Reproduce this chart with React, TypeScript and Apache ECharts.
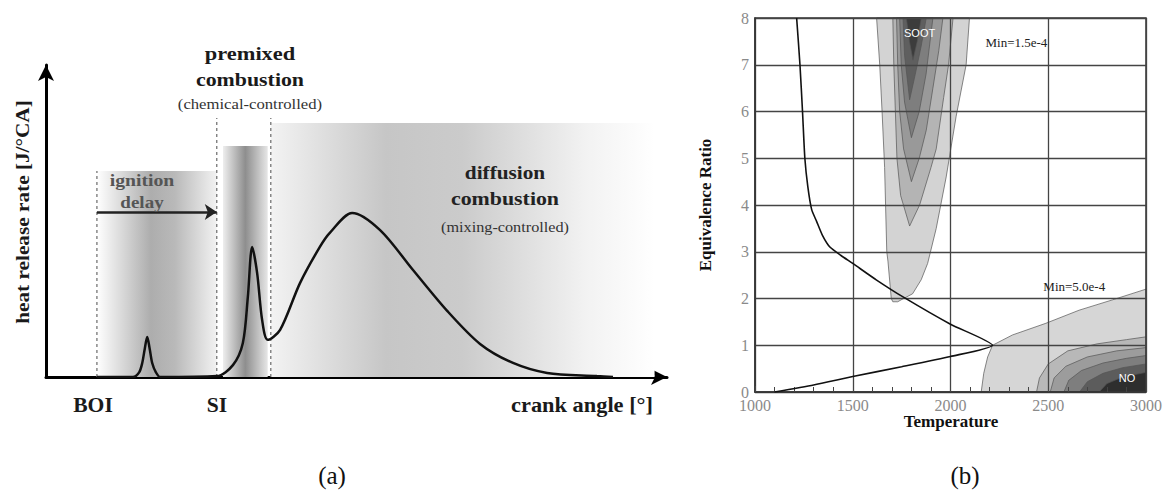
import React, { useEffect, useRef } from "react";
import * as echarts from "echarts";

// ---------- Panel (a): schematic heat release rate (arbitrary units) ----------
const hrrCrank = [8.2, 14.0, 15.0, 15.5, 15.9, 16.3, 16.7, 17.1, 17.7, 18.4, 27.5, 30.1, 31.7, 32.5, 33.2, 34.0, 34.8, 35.7, 37.7, 40.9, 44.1, 45.7, 49.3, 53.8, 59.1, 64.6, 69.9, 75.2, 80.7, 88.7, 91.3];
const hrrValue = [0, 0, 1.5, 4.5, 9, 12.8, 9, 4.5, 1.5, 0, 0.3, 3.8, 10.9, 25.6, 41.7, 33.3, 18.3, 11.9, 15.1, 30.1, 41.7, 46.2, 52.6, 47.1, 34.3, 21.2, 10.6, 4.5, 1.3, 0.3, 0];

const bandStart = [8.2, 28.5, 36.2];
const bandEnd = [27.5, 35.7, 98];
const bandTop = [66, 74, 81.4];

const markerCrank = [8.2, 27.5, 36.2];
const markerTop = [66, 83, 83];

const delayFrom = 8.2;
const delayTo = 27.5;
const delayLevel = 52.9;

// ---------- Panel (b): soot / NO map ----------
const flameCurve = [
  [1213, 8], [1230, 7], [1243, 6], [1255, 5], [1270, 4.4], [1290, 3.9], [1315, 3.65], [1345, 3.35],
  [1383, 3.1], [1440, 2.92], [1500, 2.75], [1620, 2.4], [1755, 2.04], [2000, 1.45], [2215, 1],
  [2000, 0.76], [1750, 0.54], [1500, 0.33], [1300, 0.15], [1100, 0],
];

const sootLevel1 = [[1622, 8], [1638, 7], [1650, 6], [1663, 4.8], [1674, 3.0], [1680, 2.8], [1697, 2.0], [1705, 1.93], [1730, 1.93], [1760, 2.0], [1806, 2.1], [1850, 2.4], [1883, 2.75], [1927, 3.5], [1978, 4.6], [2029, 5.9], [2080, 7], [2097, 8]];
const sootLevel2 = [[1705, 8], [1710, 7], [1718, 6], [1726, 5], [1745, 4.2], [1791, 3.55], [1842, 4], [1900, 4.8], [1927, 5.2], [1965, 6.3], [1990, 7], [2013, 8]];
const sootLevel3 = [[1724, 8], [1730, 7], [1740, 6], [1760, 5.2], [1800, 4.5], [1840, 5], [1876, 5.6], [1910, 6.5], [1940, 7.3], [1961, 8]];
const sootLevel4 = [[1740, 8], [1748, 7], [1765, 6.2], [1800, 5.44], [1840, 6], [1875, 6.8], [1910, 8]];
const sootLevel5 = [[1757, 8], [1765, 7.2], [1791, 6.25], [1820, 6.8], [1850, 7.4], [1876, 8]];
const sootLevel6 = [[1774, 8], [1790, 7.5], [1808, 7.1], [1830, 7.5], [1851, 8]];

const noLevel1 = [[2157, 0], [2170, 0.4], [2190, 0.75], [2215, 1], [2317, 1.22], [2488, 1.47], [2658, 1.75], [2828, 1.97], [3000, 2.2], [3000, 0]];
const noLevel2 = [[2440, 0], [2455, 0.3], [2500, 0.6], [2600, 0.88], [2750, 1.03], [2900, 1.12], [3000, 1.18], [3000, 0]];
const noLevel3 = [[2510, 0], [2530, 0.3], [2590, 0.55], [2700, 0.75], [2850, 0.88], [3000, 0.95], [3000, 0]];
const noLevel4 = [[2580, 0], [2605, 0.25], [2670, 0.46], [2780, 0.62], [2900, 0.72], [3000, 0.78], [3000, 0]];
const noLevel5 = [[2660, 0], [2700, 0.22], [2780, 0.4], [2880, 0.52], [3000, 0.6], [3000, 0]];
const noLevel6 = [[2760, 0], [2800, 0.18], [2880, 0.32], [3000, 0.42], [3000, 0]];

const contours = [sootLevel1, sootLevel2, sootLevel3, sootLevel4, sootLevel5, sootLevel6, noLevel1, noLevel2, noLevel3, noLevel4, noLevel5, noLevel6];
const contourFills = ["#d3d3d3", "#b4b4b4", "#999999", "#7e7e7e", "#5f5f5f", "#3c3c3c", "#d6d6d6", "#b8b8b8", "#9c9c9c", "#7e7e7e", "#5c5c5c", "#2e2e2e"];

const SERIF = '"Liberation Serif", "DejaVu Serif", serif';

function txt(text: string, x: number, y: number, size: number, bold = true, fill = "#1a1a1a", rotation = 0, scaleX = 1) {
  return {
    type: "text",
    x,
    y,
    z: 100,
    rotation,
    scaleX,
    style: {
      text,
      align: "center",
      verticalAlign: "middle",
      fontFamily: SERIF,
      fontSize: size,
      fontWeight: bold ? "bold" : "normal",
      fill,
    },
  };
}

export default function App() {
  const ref = useRef<HTMLDivElement>(null);

  useEffect(() => {
    document.body.style.margin = "0";
    const chart = echarts.init(ref.current!, null, { renderer: "svg" });

    const bandGradients = [
      [
        { offset: 0, color: "#ffffff" },
        { offset: 0.45, color: "#adadad" },
        { offset: 0.65, color: "#b9b9b9" },
        { offset: 1, color: "#f2f2f2" },
      ],
      [
        { offset: 0, color: "#eeeeee" },
        { offset: 0.5, color: "#8e8e8e" },
        { offset: 1, color: "#e6e6e6" },
      ],
      [
        { offset: 0, color: "#f3f3f3" },
        { offset: 0.3, color: "#c6c6c6" },
        { offset: 0.5, color: "#cbcbcb" },
        { offset: 0.82, color: "#f2f2f2" },
        { offset: 1, color: "#ffffff" },
      ],
    ];

    const plain = (v: number) => String(v);

    const option: any = {
      animation: false,
      backgroundColor: "#ffffff",
      grid: [
        { left: 46, top: 65, width: 621, height: 312 },
        { left: 755, top: 18, width: 392, height: 374, show: true, borderColor: "#333", borderWidth: 1.5, backgroundColor: "transparent" },
      ],
      xAxis: [
        {
          gridIndex: 0,
          type: "value",
          min: 0,
          max: 100,
          axisLine: { show: true, onZero: false, symbol: ["none", "arrow"], symbolSize: [12, 16], lineStyle: { color: "#000", width: 3 } },
          axisTick: { show: false },
          axisLabel: { show: false },
          splitLine: { show: false },
        },
        {
          gridIndex: 1,
          type: "value",
          min: 1000,
          max: 3000,
          interval: 500,
          axisLine: { show: true, onZero: false, lineStyle: { color: "#333", width: 1.5 } },
          axisTick: { show: true, inside: true, length: 6, lineStyle: { color: "#444" } },
          minorTick: { show: true, splitNumber: 5, length: 5, lineStyle: { color: "#444" } },
          axisLabel: { fontFamily: SERIF, fontSize: 16, color: "#8a8a8a", margin: 5, formatter: plain },
          splitLine: { show: true, lineStyle: { color: "#444", width: 1.3 } },
          z: 5,
        },
      ],
      yAxis: [
        {
          gridIndex: 0,
          type: "value",
          min: 0,
          max: 100,
          axisLine: { show: true, onZero: false, symbol: ["none", "arrow"], symbolSize: [12, 16], lineStyle: { color: "#000", width: 3 } },
          axisTick: { show: false },
          axisLabel: { show: false },
          splitLine: { show: false },
        },
        {
          gridIndex: 1,
          type: "value",
          min: 0,
          max: 8,
          interval: 1,
          name: "Equivalence Ratio",
          nameLocation: "middle",
          nameGap: 41,
          nameTextStyle: { fontFamily: SERIF, fontWeight: "bold", fontSize: 17, color: "#111" },
          axisLine: { show: true, onZero: false, lineStyle: { color: "#333", width: 1.5 } },
          axisTick: { show: false },
          axisLabel: { fontFamily: SERIF, fontSize: 16, color: "#8a8a8a", margin: 6, formatter: plain },
          splitLine: { show: true, lineStyle: { color: "#444", width: 1.3 } },
          z: 5,
        },
      ],
      graphic: [
        txt("premixed", 250, 53, 19, true, "#1a1a1a", 0, 1.18),
        txt("combustion", 250, 80, 19, true, "#1a1a1a", 0, 1.15),
        txt("(chemical-controlled)", 250, 104, 14.5, false, "#333", 0, 1.15),
        txt("ignition", 142, 180, 17, true, "#555", 0, 1.16),
        txt("delay", 142, 202, 17, true, "#555", 0, 1.12),
        txt("diffusion", 505, 172, 19, true, "#222", 0, 1.12),
        txt("combustion", 505, 199, 19, true, "#222", 0, 1.15),
        txt("(mixing-controlled)", 505, 227, 14.5, false, "#333", 0, 1.12),
        txt("BOI", 93, 405, 20, true, "#1a1a1a", 0, 1.08),
        txt("SI", 217, 405, 20, true, "#1a1a1a", 0, 1.08),
        txt("crank angle [°]", 582, 405, 20, true, "#1a1a1a", 0, 1.12),
        txt("heat release rate [J/°CA]", 22, 212, 19, true, "#1a1a1a", Math.PI / 2, 1.12),
        txt("Temperature", 951, 421, 17, true, "#111"),
        txt("(a)", 332, 475, 25, false, "#111"),
        txt("(b)", 965, 475, 25, false, "#111"),
      ],
      series: [
        {
          type: "custom",
          xAxisIndex: 0,
          yAxisIndex: 0,
          z: 1,
          data: bandStart.map((s, i) => [s, bandTop[i]]),
          renderItem: (params: any, api: any) => {
            const i = params.dataIndex;
            const p0 = api.coord([bandStart[i], bandTop[i]]);
            const p1 = api.coord([bandEnd[i], 0]);
            return {
              type: "rect",
              shape: { x: p0[0], y: p0[1], width: p1[0] - p0[0], height: p1[1] - p0[1] },
              style: { fill: new echarts.graphic.LinearGradient(0, 0, 1, 0, bandGradients[i]) },
            };
          },
        },
        {
          type: "custom",
          xAxisIndex: 0,
          yAxisIndex: 0,
          z: 2,
          data: markerCrank.map((x, i) => [x, markerTop[i]]),
          renderItem: (params: any, api: any) => {
            const i = params.dataIndex;
            const a = api.coord([markerCrank[i], 0]);
            const b = api.coord([markerCrank[i], markerTop[i]]);
            return {
              type: "line",
              shape: { x1: a[0], y1: a[1], x2: b[0], y2: b[1] },
              style: { stroke: "#6a6a6a", lineWidth: 1.2, lineDash: [3, 3] },
            };
          },
        },
        {
          type: "lines",
          coordinateSystem: "cartesian2d",
          xAxisIndex: 0,
          yAxisIndex: 0,
          z: 3,
          symbol: ["none", "arrow"],
          symbolSize: 12,
          lineStyle: { color: "#222", width: 2.5, opacity: 1 },
          data: [{ coords: [[delayFrom, delayLevel], [delayTo, delayLevel]] }],
        },
        {
          type: "line",
          xAxisIndex: 0,
          yAxisIndex: 0,
          z: 4,
          smooth: 0.3,
          showSymbol: false,
          lineStyle: { color: "#111", width: 2.5 },
          data: hrrCrank.map((x, i) => [x, hrrValue[i]]),
        },
        {
          type: "custom",
          xAxisIndex: 1,
          yAxisIndex: 1,
          z: -1,
          data: contours.map((c) => c[0]),
          renderItem: (params: any, api: any) => {
            const i = params.dataIndex;
            return {
              type: "polygon",
              shape: { points: contours[i].map((p) => api.coord(p)) },
              style: { fill: contourFills[i], stroke: "#555", lineWidth: 0.7 },
            };
          },
        },
        {
          type: "line",
          xAxisIndex: 1,
          yAxisIndex: 1,
          z: 6,
          showSymbol: false,
          smooth: 0.2,
          lineStyle: { color: "#111", width: 1.6 },
          data: flameCurve,
          markPoint: {
            symbol: "circle",
            symbolSize: 0,
            data: [
              { coord: [1842, 7.68], value: "SOOT", label: { show: true, formatter: "SOOT", color: "#fff", fontSize: 11, fontFamily: "Liberation Sans" } },
              { coord: [2903, 0.3], value: "NO", label: { show: true, formatter: "NO", color: "#fff", fontSize: 11, fontFamily: "Liberation Sans" } },
              { coord: [2337, 7.47], value: "m1", label: { show: true, formatter: "Min=1.5e-4", color: "#222", fontSize: 13, fontFamily: SERIF } },
              { coord: [2633, 2.25], value: "m2", label: { show: true, formatter: "Min=5.0e-4", color: "#222", fontSize: 13, fontFamily: SERIF } },
            ],
          },
        },
      ],
    };

    chart.setOption(option);
    return () => chart.dispose();
  }, []);

  return <div ref={ref} style={{ width: 1165, height: 497 }} />;
}
